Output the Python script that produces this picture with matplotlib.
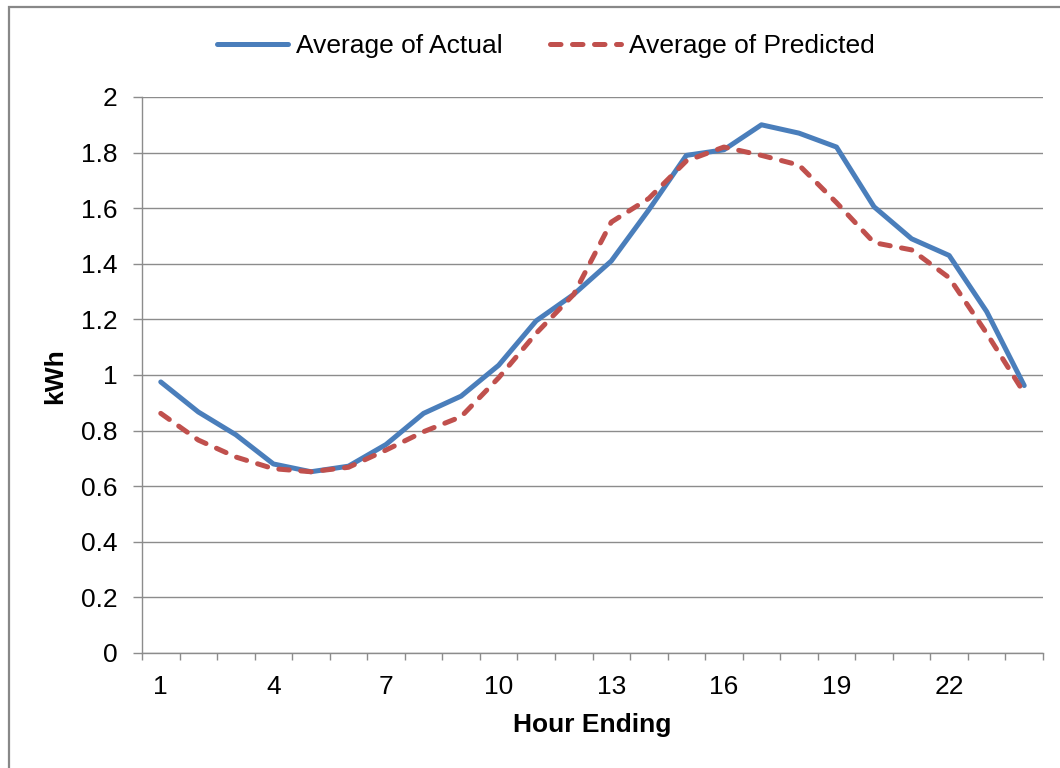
import matplotlib
matplotlib.use("Agg")
import matplotlib.pyplot as plt
from matplotlib.patches import Rectangle
from matplotlib.ticker import FixedLocator, NullFormatter

# Hourly load profile: actual vs. predicted average consumption
hours = list(range(1, 25))
actual = [0.975, 0.867, 0.785, 0.68, 0.652, 0.672, 0.75, 0.862, 0.924, 1.035,
          1.195, 1.29, 1.41, 1.594, 1.79, 1.81, 1.90, 1.87, 1.82, 1.605,
          1.49, 1.43, 1.228, 0.962]
predicted = [0.862, 0.766, 0.705, 0.663, 0.652, 0.668, 0.73, 0.796, 0.85, 0.99,
             1.15, 1.29, 1.55, 1.635, 1.77, 1.82, 1.79, 1.755, 1.62, 1.476,
             1.45, 1.35, 1.15, 0.935]
x_tick_labels = [1, 4, 7, 10, 13, 16, 19, 22]
y_ticks = [0, 0.2, 0.4, 0.6, 0.8, 1.0, 1.2, 1.4, 1.6, 1.8, 2.0]
y_tick_labels = ["0", "0.2", "0.4", "0.6", "0.8", "1", "1.2", "1.4", "1.6", "1.8", "2"]

BLUE = "#4A7EBB"
RED = "#C0504D"
GRID = "#8C8C8C"
FONT = "Liberation Sans"
FS = 19

plt.rcParams["font.family"] = [FONT, "DejaVu Sans"]

W, H = 1060, 768
fig = plt.figure(figsize=(W / 100, H / 100), dpi=100)

# outer chart frame (runs off the right and bottom edges)
fig.patches.append(Rectangle((8.5 / W, -0.1), 1.2, 1 - 6.5 / H + 0.1,
                             transform=fig.transFigure, fill=False,
                             edgecolor="#888888", linewidth=1.6))

ax = fig.add_axes([142 / W, 1 - 653 / H, (1043 - 142) / W, (653 - 97) / H])

ax.plot(hours, actual, color=BLUE, linewidth=3.6, solid_capstyle="round",
        solid_joinstyle="round", label="Average of Actual", zorder=3)
ax.plot(hours, predicted, color=RED, linewidth=3.6, linestyle=(0, (2.1, 2.3)),
        dash_capstyle="round", dash_joinstyle="round",
        label="Average of Predicted", zorder=4)

ax.set_xlim(0.5, 24.5)
ax.set_ylim(0, 2.0)

# y axis
ax.set_yticks(y_ticks)
ax.set_yticklabels(y_tick_labels)
ax.yaxis.grid(True, color=GRID, linewidth=1.0)
ax.set_axisbelow(True)
ax.tick_params(axis="y", direction="out", length=6.5, width=1.0, color=GRID,
               pad=11, labelsize=FS, labelcolor="black")

# x axis: labels every third hour, tick marks between categories
ax.set_xticks(x_tick_labels)
ax.set_xticklabels([str(v) for v in x_tick_labels])
ax.xaxis.set_minor_locator(FixedLocator([h + 0.5 for h in range(0, 25)]))
ax.xaxis.set_minor_formatter(NullFormatter())
ax.tick_params(axis="x", which="major", length=0, pad=16, labelsize=FS,
               labelcolor="black")
ax.tick_params(axis="x", which="minor", direction="out", length=5, width=1.0,
               color=GRID)

for side in ("top", "right"):
    ax.spines[side].set_visible(False)
for side in ("left", "bottom"):
    ax.spines[side].set_color(GRID)
    ax.spines[side].set_linewidth(1.0)

ax.set_xlabel("Hour Ending", fontsize=FS, fontweight="bold", labelpad=10)
fig.text(55 / W, 1 - 376 / H, "kWh", rotation=90, fontsize=FS,
         fontweight="bold", ha="center", va="center")

leg = fig.legend(loc="center", bbox_to_anchor=(546 / W, 1 - 46 / H), ncol=2,
                 frameon=False, fontsize=FS, handlelength=2.7,
                 handletextpad=0.3, columnspacing=1.8, borderaxespad=0)

fig.savefig("out.png", dpi=100)
